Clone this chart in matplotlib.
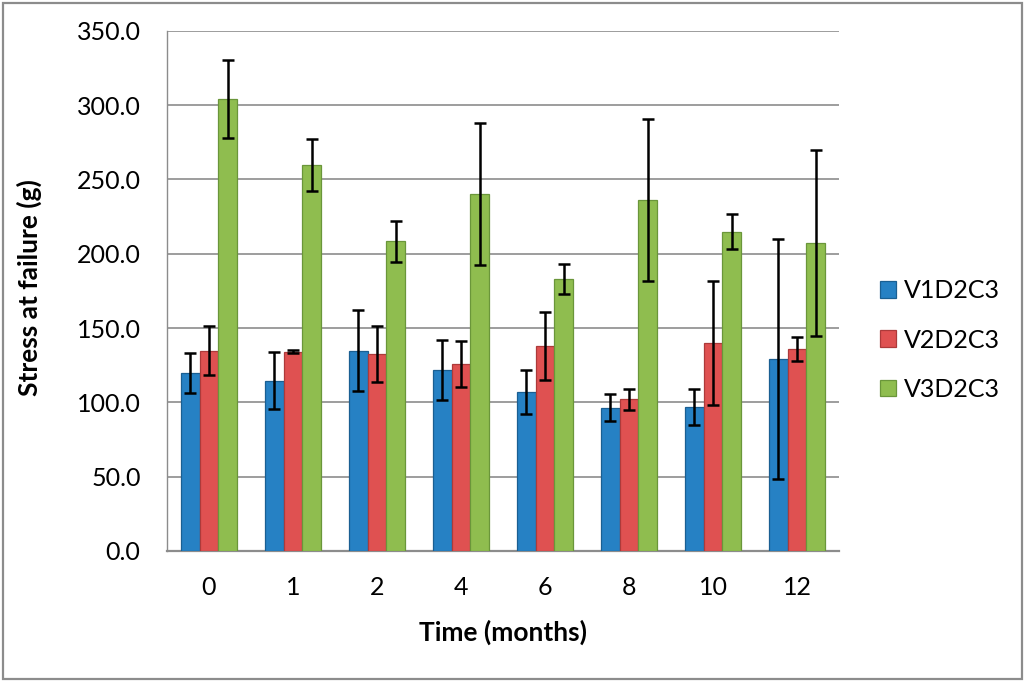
import numpy as np
import matplotlib
matplotlib.use("Agg")
import matplotlib.pyplot as plt
from matplotlib.patches import Patch, Rectangle

plt.rcParams['font.family'] = ['Lato', 'DejaVu Sans']

months = ['0', '1', '2', '4', '6', '8', '10', '12']
series = ['V1D2C3', 'V2D2C3', 'V3D2C3']

v1 = [119.5, 114.6, 134.8, 121.7, 107.2, 96.4, 96.9, 129.1]
v2 = [134.8, 134.1, 132.5, 125.8, 138.1, 102.0, 139.7, 135.9]
v3 = [304.0, 259.6, 208.3, 240.1, 183.0, 236.1, 214.8, 207.0]

v1_err = [13.5, 19.0, 27.0, 20.0, 14.8, 9.2, 12.0, 81.0]
v2_err = [16.7, 1.0, 19.0, 15.8, 23.0, 7.2, 41.8, 8.0]
v3_err = [26.0, 17.6, 14.0, 48.0, 9.8, 54.7, 11.6, 62.6]

faces = ['#2681c4', '#df5151', '#8fbd4f']
edges = ['#1a5f92', '#ad3a3a', '#6a963a']

fig = plt.figure(figsize=(10.24, 6.81), dpi=100)
ax = fig.add_axes([167 / 1024, 130 / 681, 672 / 1024, 520.3 / 681])

x = np.arange(len(months))
w = 0.225
for i, (vals, errs) in enumerate(zip([v1, v2, v3], [v1_err, v2_err, v3_err])):
    ax.bar(x + (i - 1) * w, vals, w, color=faces[i], edgecolor=edges[i],
           linewidth=0.9, zorder=3)
    ax.errorbar(x + (i - 1) * w, vals, yerr=errs, fmt='none', ecolor='black',
                elinewidth=1.8, capsize=4.3, capthick=1.8, zorder=4)

ax.set_xlim(-0.5, len(months) - 0.5)
ax.set_ylim(0, 350)
ax.set_yticks(np.arange(0, 351, 50))
ax.set_yticklabels([f'{t:.1f}' for t in np.arange(0, 351, 50)])
ax.set_xticks(x)
ax.set_xticklabels(months)
ax.tick_params(axis='both', length=0, labelsize=18)
ax.tick_params(axis='y', pad=19)
ax.tick_params(axis='x', pad=18)
ax.yaxis.grid(True, color='#8c8c8c', linewidth=1.2, zorder=0)
ax.set_axisbelow(True)
for s in ['top', 'right']:
    ax.spines[s].set_visible(False)
ax.spines['left'].set_color('#8c8c8c')
ax.spines['left'].set_linewidth(1.0)
ax.spines['bottom'].set_color('#8c8c8c')
ax.spines['bottom'].set_linewidth(1.6)

fig.text(503 / 1024, 1 - 632 / 681, 'Time (months)', ha='center', va='center',
         fontsize=19, fontweight='bold')
fig.text(29 / 1024, 1 - 288 / 681, 'Stress at failure (g)', ha='center', va='center',
         rotation=90, fontsize=19, fontweight='bold')

handles = [Patch(facecolor=faces[i], edgecolor=edges[i], linewidth=0.9) for i in range(3)]
fig.legend(handles, series, loc='center left', bbox_to_anchor=(880 / 1024, 1 - 340 / 681),
           frameon=False, fontsize=18, handlelength=0.65, handleheight=0.65,
           handletextpad=0.3, labelspacing=1.05, borderpad=0, borderaxespad=0)

fig.patches.append(Rectangle((2.5 / 1024, 2.5 / 681), 1019 / 1024, 676 / 681,
                             transform=fig.transFigure, fill=False,
                             edgecolor='#8c8c8c', linewidth=1.6))

fig.savefig('out.png', dpi=100)
